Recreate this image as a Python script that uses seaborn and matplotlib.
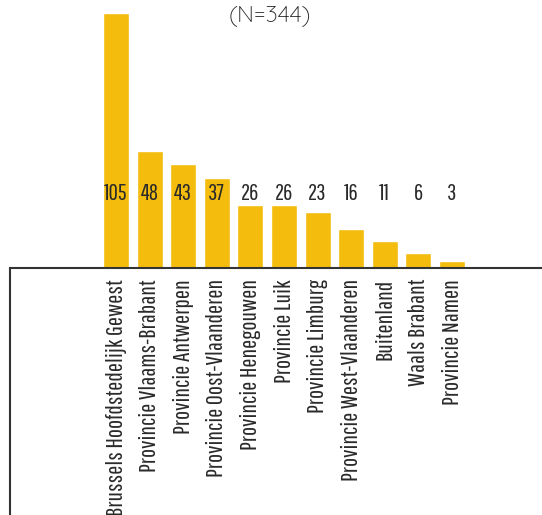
import matplotlib
matplotlib.use("Agg")
import matplotlib.pyplot as plt
import seaborn as sns
import pandas as pd
from matplotlib.lines import Line2D

categories = ["Brussels Hoofdstedelijk Gewest", "Provincie Vlaams-Brabant",
              "Provincie Antwerpen", "Provincie Oost-Vlaanderen",
              "Provincie Henegouwen", "Provincie Luik", "Provincie Limburg",
              "Provincie West-Vlaanderen", "Buitenland", "Waals Brabant",
              "Provincie Namen"]
values = [105, 48, 43, 37, 26, 26, 23, 16, 11, 6, 3]
title = "(N=344)"

sns.set_theme(style="white")
COND = ["Pathway Gothic One", "Oswald", "DejaVu Sans"]
plt.rcParams['font.family'] = COND

W, H = 542, 515
fig = plt.figure(figsize=(W / 100, H / 100), dpi=100)
ax = fig.add_axes([10 / W, (H - 268) / H, 532 / W, 268 / H])

df = pd.DataFrame({"cat": categories, "val": values})
sns.barplot(data=df, x="cat", y="val", color="#F4BD0D", saturation=1,
            width=0.77, ax=ax)

ax.set_xlim(-3.155, -3.155 + 532 / 33.6)
ax.set_ylim(0, 268 / 2.4286)
ax.set_xlabel("")
ax.set_ylabel("")
ax.set_yticks([])
for s in ["top", "right", "left"]:
    ax.spines[s].set_visible(False)
ax.spines["bottom"].set_color("#333333")
ax.spines["bottom"].set_linewidth(1.5)
ax.tick_params(axis="x", length=0, pad=8)
ax.set_xticks(range(len(categories)))
ax.set_xticklabels(categories, rotation=90, fontsize=17.5, color="#2a2a2a",
                   family=COND)

for i, v in enumerate(values):
    ax.text(i, 30.5, str(v), ha="center", va="center", fontsize=16.5,
            color="#2a2a2a", family=COND)

fig.add_artist(Line2D([10 / W, 10 / W], [0, (H - 268) / H],
                      transform=fig.transFigure, color="#333333", lw=1.5))

fig.text(270 / W, 1 - 22 / H, title, ha="center", va="baseline",
         fontsize=17, color="#2e2e2e", fontweight="normal",
         family=["Quicksand", "Lato", "DejaVu Sans"])

fig.savefig("out.png", dpi=100)
